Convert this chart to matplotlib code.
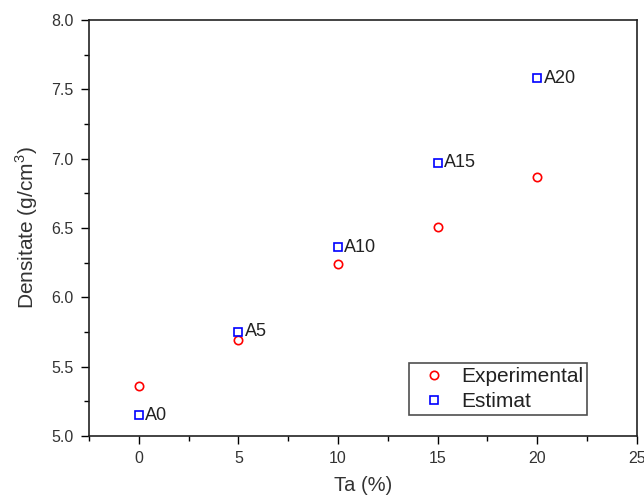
import matplotlib
matplotlib.use("Agg")
import matplotlib.pyplot as plt
from matplotlib.ticker import MultipleLocator, FormatStrFormatter

plt.rcParams['font.family'] = ['Liberation Sans', 'DejaVu Sans']
plt.rcParams['mathtext.fontset'] = 'custom'
plt.rcParams['mathtext.rm'] = 'Liberation Sans'

ta = [0, 5, 10, 15, 20]
experimental = [5.36, 5.69, 6.24, 6.51, 6.87]
estimat = [5.15, 5.75, 6.36, 6.97, 7.58]
labels = ['A0', 'A5', 'A10', 'A15', 'A20']

fig = plt.figure(figsize=(6.44, 5.0), dpi=100)
ax = fig.add_axes([0.138, 0.128, 0.851, 0.832])

ax.plot(ta, experimental, linestyle='none', marker='o', markersize=6,
        markerfacecolor='none', markeredgecolor='red', markeredgewidth=1.2,
        label='Experimental')
ax.plot(ta, estimat, linestyle='none', marker='s', markersize=6,
        markerfacecolor='none', markeredgecolor='blue', markeredgewidth=1.2,
        label='Estimat')

for x, y, t in zip(ta, estimat, labels):
    ax.annotate(t, (x, y), xytext=(4.5, 0), textcoords='offset points',
                ha='left', va='center', fontsize=13, color='#222222')

ax.set_xlim(-2.5, 25)
ax.set_ylim(5.0, 8.0)
ax.xaxis.set_major_locator(MultipleLocator(5))
ax.xaxis.set_minor_locator(MultipleLocator(2.5))
ax.yaxis.set_major_locator(MultipleLocator(0.5))
ax.yaxis.set_minor_locator(MultipleLocator(0.25))
ax.tick_params(which='major', direction='out', length=6, width=1, labelsize=11.5,
               labelcolor='#333333', top=False, right=False, pad=5)
ax.tick_params(which='minor', direction='out', length=3.5, width=1, top=False, right=False)
ax.yaxis.set_major_formatter(FormatStrFormatter('%.1f'))

for s in ax.spines.values():
    s.set_linewidth(1.2)
    s.set_color('#222222')

ax.set_xlabel('Ta (%)', fontsize=14.5, color='#333333', labelpad=7)
ax.set_ylabel('Densitate (g/cm$^\\mathregular{3}$)', fontsize=15, color='#333333', labelpad=8)

leg = ax.legend(loc='lower left', bbox_to_anchor=(0.584, 0.05), fontsize=15,
                frameon=True, fancybox=False, edgecolor='#222222',
                handletextpad=0.3, borderpad=0.2, labelspacing=0.28,
                handlelength=2.0, borderaxespad=0)
leg.get_frame().set_linewidth(1.2)
for t in leg.get_texts():
    t.set_color('#222222')

fig.savefig('out.png', dpi=100)
